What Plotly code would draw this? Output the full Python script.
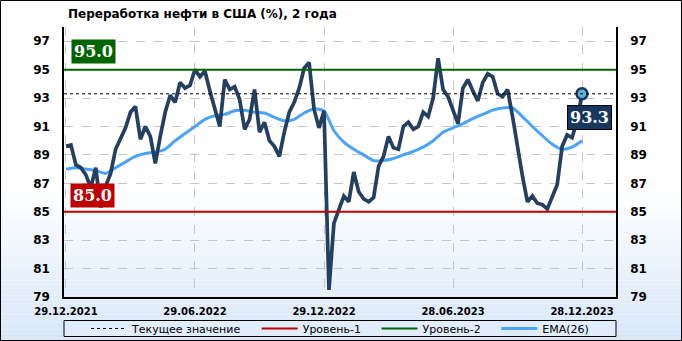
import plotly.graph_objects as go

# ---------------- data ----------------
title_text = "Переработка нефти в США (%), 2 года"
tick_labels = ["29.12.2021", "29.06.2022", "29.12.2022", "28.06.2023", "28.12.2023"]
tick_weeks = [0, 26, 52, 78, 104]
y_ticks = [79, 81, 83, 85, 87, 89, 91, 93, 95, 97]

refining = [
    89.6, 89.7, 88.3, 88.1, 87.6, 86.7, 88.1, 85.3, 86.8, 87.7,
    89.4, 90.2, 90.9, 92.0, 92.4, 90.1, 91.0, 90.3, 88.4, 90.3,
    92.0, 93.2, 92.7, 94.1, 93.7, 93.9, 95.0, 94.5, 94.9, 93.5,
    92.2, 91.0, 94.3, 93.6, 93.8, 92.9, 90.8, 91.5, 93.6, 90.6,
    91.3, 90.0, 89.6, 88.9, 90.6, 92.0, 92.7, 93.7, 95.1, 95.5,
    92.2, 90.9, 92.1, 79.5, 84.2, 85.2, 86.1, 85.7, 87.8, 86.4,
    85.9, 85.7, 86.0, 88.2, 88.9, 90.3, 89.5, 89.4, 91.0, 91.3,
    90.8, 91.0, 92.0, 91.7, 93.0, 95.8, 93.6, 93.1, 92.2, 91.2,
    93.7, 94.3, 93.5, 92.8, 94.1, 94.7, 94.5, 93.3, 93.1, 93.6,
    91.7, 89.4, 87.5, 85.7, 86.1, 85.6, 85.5, 85.2, 86.1, 86.9,
    89.6, 90.4, 90.2, 91.4, 93.3,
]

ema_weeks = list(range(0, 105, 2))
ema_values = [
    88.0, 88.1, 88.0, 87.9, 87.7, 88.1, 88.5, 88.9, 89.1, 89.2,
    89.4, 90.0, 90.5, 91.0, 91.5, 91.75, 91.85, 92.1, 92.15, 92.0,
    91.95, 91.65, 91.4, 91.5, 91.95, 92.25, 92.1, 90.7, 89.9, 89.4,
    89.0, 88.6, 88.6, 88.75, 89.0, 89.25, 89.55, 90.0, 90.6, 90.9,
    91.2, 91.55, 91.85, 92.15, 92.3, 92.3, 91.7, 91.0, 90.35, 89.75,
    89.4, 89.55, 90.0,
]

level_1 = 85.0
level_2 = 95.0

legend_current = "Текущее значение"
legend_level_1 = "Уровень-1"
legend_level_2 = "Уровень-2"
legend_ema = "EMA(26)"

# ---------------- figure ----------------
W, H = 682, 341
ML, MR, MT, MB = 64, 66, 27, 44
PW, PH = W - ML - MR, H - MT - MB

weeks = list(range(len(refining)))
current = refining[-1]

NAVY = "#243f60"
EMA_C = "#4aa3f7"
GREEN = "#006400"
RED = "#c00000"
FONT = "DejaVu Sans"
SERIF = "DejaVu Serif"
PAD = "\u00a0\u00a0\u00a0"   # extra spacing between legend entries


def px_to_paper_y(py):
    return (H - MB - py) / PH


def px_to_paper_x(px):
    return (px - ML) / PW


fig = go.Figure()

fig.add_trace(go.Scatter(
    x=ema_weeks, y=ema_values, mode="lines", name=legend_ema,
    line=dict(color=EMA_C, width=3, shape="spline", smoothing=0.6),
    yaxis="y", legendrank=4, hoverinfo="skip",
))
fig.add_trace(go.Scatter(
    x=weeks, y=refining, mode="lines", showlegend=False,
    line=dict(color=NAVY, width=3.7), yaxis="y2",
))
fig.add_trace(go.Scatter(
    x=[weeks[-1]], y=[current], mode="markers", showlegend=False,
    marker=dict(size=11, color="#62b2dc", line=dict(color="#17365d", width=2.5)),
    yaxis="y2",
))

shapes = []
# background gradient (white -> light blue at bottom)
n_bands = 40
g0, g1 = 190, H
c_top = (255, 255, 255)
c_bot = (214, 230, 248)
for k in range(n_bands):
    y0p = g0 + (g1 - g0) * k / n_bands
    y1p = g0 + (g1 - g0) * (k + 1) / n_bands
    t = (k + 0.5) / n_bands
    col = tuple(round(c_top[j] + (c_bot[j] - c_top[j]) * t) for j in range(3))
    shapes.append(dict(
        type="rect", layer="below", xref="paper", yref="paper",
        x0=px_to_paper_x(-5), x1=px_to_paper_x(W + 5),
        y0=px_to_paper_y(y1p), y1=px_to_paper_y(y0p),
        fillcolor="rgb(%d,%d,%d)" % col, line=dict(width=0),
    ))

# legend box (full plot width)
shapes.append(dict(
    type="rect", layer="below", xref="paper", yref="paper",
    x0=0, x1=1, y0=px_to_paper_y(336.5), y1=px_to_paper_y(320.5),
    fillcolor="rgba(228,238,251,0.7)", line=dict(color="black", width=1),
))

# level lines + current value line (with legend entries)
shapes.append(dict(
    type="line", xref="x domain", x0=0, x1=1, yref="y", y0=current, y1=current,
    line=dict(color="black", width=1, dash="3px,3px"),
    showlegend=True, name=legend_current + PAD, legendrank=1,
))
shapes.append(dict(
    type="line", xref="x domain", x0=0, x1=1, yref="y", y0=level_1, y1=level_1,
    line=dict(color=RED, width=2),
    showlegend=True, name=legend_level_1 + PAD, legendrank=2,
))
shapes.append(dict(
    type="line", xref="x domain", x0=0, x1=1, yref="y", y0=level_2, y1=level_2,
    line=dict(color=GREEN, width=2),
    showlegend=True, name=legend_level_2 + PAD, legendrank=3,
))
# outer border
shapes.append(dict(
    type="rect", layer="above", xref="paper", yref="paper",
    x0=px_to_paper_x(0.5), x1=px_to_paper_x(W - 0.5),
    y0=px_to_paper_y(H - 0.5), y1=px_to_paper_y(0.5),
    line=dict(color="black", width=1), fillcolor="rgba(0,0,0,0)",
))

label_font = dict(family=SERIF, size=16, color="white", weight="bold")
annotations = [
    dict(xref="x domain", x=0.013, xanchor="left", yref="y", y=level_2,
         yanchor="bottom", yshift=6, text=f"{level_2:.1f}", showarrow=False,
         font=label_font, bgcolor=GREEN, borderpad=2),
    dict(xref="x domain", x=0.011, xanchor="left", yref="y", y=level_1,
         yanchor="bottom", yshift=4, text=f"{level_1:.1f}", showarrow=False,
         font=label_font, bgcolor=RED, borderpad=2),
    dict(xref="x", x=weeks[-1], xanchor="center", xshift=7, yref="y2", y=current,
         yanchor="top", yshift=-11, text=f"{current:.1f}", showarrow=False,
         font=label_font, bgcolor="#17375e", bordercolor="black", borderwidth=1,
         borderpad=2),
]

axis_font = dict(family=FONT, size=12, color="black", weight="bold")
grid_col = "#c6c6c6"
y_range = [79, 98]

fig.update_layout(
    width=W, height=H,
    margin=dict(l=ML, r=MR, t=MT, b=MB, pad=0, autoexpand=False),
    paper_bgcolor="white", plot_bgcolor="rgba(0,0,0,0)",
    title=dict(text=title_text, x=px_to_paper_x(68), xref="paper", xanchor="left",
               y=1 - 14 / H, yref="container", yanchor="middle",
               font=dict(family=FONT, size=12, color="black", weight="bold")),
    xaxis=dict(range=[-0.4, 110.85], tickvals=tick_weeks, ticktext=tick_labels,
               showgrid=True, gridcolor=grid_col, griddash="dash", gridwidth=1,
               showline=True, linecolor="black", linewidth=1.5, zeroline=False,
               ticks="", tickfont=dict(family=FONT, size=10, color="black", weight="bold"),
               ticklabelstandoff=4),
    yaxis=dict(range=y_range, tickvals=y_ticks, showgrid=True, gridcolor=grid_col,
               griddash="dash", gridwidth=1, showline=True, linecolor="black",
               linewidth=1.5, zeroline=False, ticks="", tickfont=axis_font,
               ticklabelstandoff=10, side="left"),
    yaxis2=dict(range=y_range, tickvals=y_ticks, overlaying="y", side="right",
                showgrid=False, showline=True, linecolor="black", linewidth=1.5,
                zeroline=False, ticks="", tickfont=axis_font, ticklabelstandoff=10),
    legend=dict(orientation="h", x=0.5, xanchor="center",
                y=px_to_paper_y(328.5), yanchor="middle",
                bgcolor="rgba(0,0,0,0)", borderwidth=0,
                font=dict(family=FONT, size=11, color="black"),
                itemwidth=36, tracegroupgap=0),
    shapes=shapes,
    annotations=annotations,
    showlegend=True,
)

fig.write_html("out.html")
